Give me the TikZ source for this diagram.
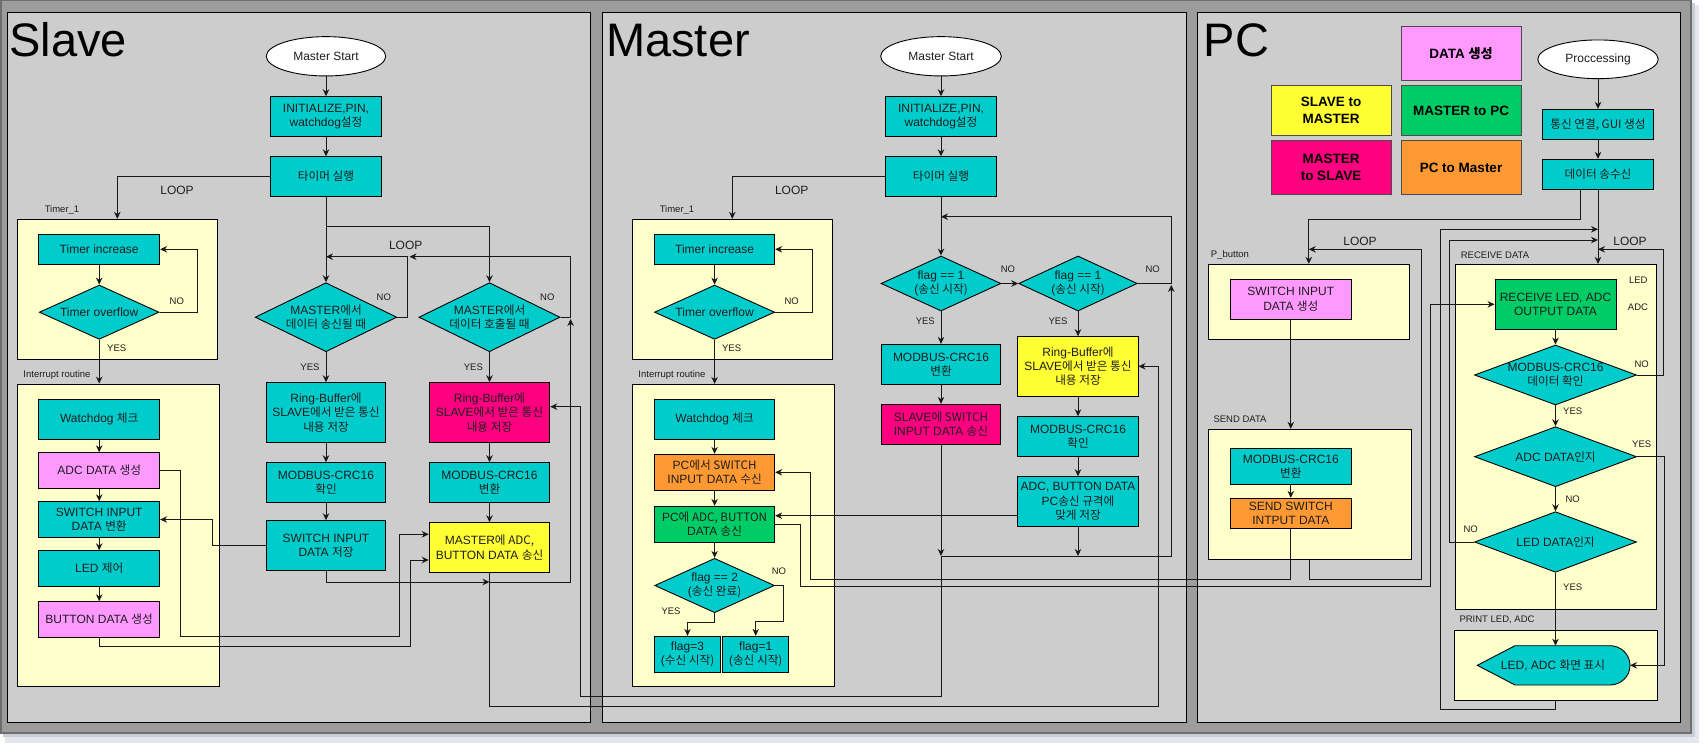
\documentclass[tikz,border=0pt]{standalone}
\usepackage{fontspec}
\setmainfont{Liberation Sans}
\newfontfamily\ko[Scale=0.97]{Noto Sans CJK KR}
\usetikzlibrary{shapes.geometric,arrows.meta,calc}
\definecolor{cyanc}{HTML}{00CCCC}
\definecolor{pinkl}{HTML}{FF99FF}
\definecolor{pinkr}{HTML}{FF0080}
\definecolor{yel}{HTML}{FFFF33}
\definecolor{grn}{HTML}{00CC66}
\definecolor{org}{HTML}{FF9933}
\definecolor{contc}{HTML}{FFFFCC}
\definecolor{panelc}{HTML}{CDCDCD}
\definecolor{framec}{HTML}{9C9C9C}
\definecolor{framedk}{HTML}{6E6E6E}
\definecolor{shada}{HTML}{E4E7EE}
\definecolor{shadb}{HTML}{C9CDD6}
\definecolor{txt}{HTML}{1E1E1E}
\tikzset{
  base/.style={font=\fontsize{12}{14.3}\selectfont, text=txt},
  bx/.style={draw, line width=0.9pt, align=center, inner sep=0.3pt, base},
  sz/.style 2 args={minimum width=#1pt, minimum height=#2pt},
  cy/.style={bx, fill=cyanc},
  pl/.style={bx, fill=pinkl},
  pr/.style={bx, fill=pinkr},
  ye/.style={bx, fill=yel},
  gr/.style={bx, fill=grn},
  og/.style={bx, fill=org},
  ell/.style={bx, ellipse, fill=white},
  cont/.style={draw, line width=0.9pt, fill=contc, inner sep=0pt},
  dia/.style={draw, line width=0.9pt, fill=cyanc, diamond, inner sep=0pt},
  dtx/.style={base, align=center, inner sep=0pt},
  lab/.style={font=\fontsize{9.5}{11}\selectfont, text=txt, inner sep=0pt},
  lp/.style={font=\fontsize{12}{13}\selectfont, text=txt, inner sep=0pt},
  lg/.style={draw=black!70, line width=0.8pt, align=center, inner sep=0.5pt,
             font=\bfseries\fontsize{13.5}{16.5}\selectfont, text=black},
  ttl/.style={anchor=base west, inner sep=0pt, font=\fontsize{47}{47}\selectfont, text=black},
  panel/.style={draw=black, line width=1pt, fill=panelc},
  arr/.style={-{Stealth[length=7pt,width=6.5pt]}, line width=0.9pt, draw=black!90},
  ln/.style={line width=0.9pt, draw=black!90},
}
\begin{document}
\begin{tikzpicture}[x=1pt,y=-1pt]
\useasboundingbox (0,0) rectangle (1706,749);
\fill[white] (0,0) rectangle (1706,749);
\fill[shada] (5,5) rectangle (1699,743);
\fill[shadb] (3,3) rectangle (1695,737);
\draw[fill=framec, draw=framedk, line width=1.5pt] (0.75,0.75) rectangle (1691,733);
\draw[panel] (7.7,12.7) rectangle (590.7,722.7);
\draw[panel] (602.3,12.7) rectangle (1186,722.7);
\draw[panel] (1197.7,12.7) rectangle (1680.5,722.7);

% titles
\node[ttl] (tSlave) at (9.3,57) {Slave};
\node[ttl] (tMaster) at (606,57) {Master};
\node[ttl] (tPC) at (1203.5,57) {PC};

% ================= SLAVE =================
\node[cont, sz={200.2}{140}] (s_t1) at (117.3,289.3) {};
\node[cont, sz={202}{302}] (s_int) at (118.2,535) {};
\node[lab] (s_t1l) at (62,210) {Timer\_1};
\node[lab] (s_intl) at (57,375) {Interrupt routine};

\node[ell, sz={119.4}{39.3}] (s_start) at (326,56.3) {Master Start};
\node[cy, sz={110.2}{40}] (s_init) at (326,116.7) {INITIALIZE,PIN,\\watchdog\ko{설정}};
\node[cy, sz={110.2}{39.3}] (s_timer) at (326,176.4) {\ko{타이머 실행}};

\node[cy, sz={120.9}{30}] (s_inc) at (99.2,249.3) {Timer increase};
\node[dia, sz={119.8}{54.3}] (s_ovf) at (99.2,312.2) {};
\node[dtx] (s_ovft) at (s_ovf) {Timer overflow};

\node[cy, sz={120.9}{40}] (s_wd) at (99.2,419.3) {Watchdog \ko{체크}};
\node[pl, sz={120.9}{35.6}] (s_adc) at (99.2,470.5) {ADC DATA \ko{생성}};
\node[cy, sz={120.9}{35.6}] (s_sw) at (99.2,519.5) {SWITCH INPUT\\DATA \ko{변환}};
\node[cy, sz={120.9}{35.3}] (s_led) at (99.2,568.4) {LED \ko{제어}};
\node[pl, sz={120.9}{35.6}] (s_btn) at (99.2,619.5) {BUTTON DATA \ko{생성}};

\node[dia, sz={141.6}{69}] (s_d1) at (326,317.2) {};
\node[dtx] (s_d1t) at (s_d1) {MASTER\ko{에서}\\\ko{데이터 송신될 때}};
\node[dia, sz={141.2}{69}] (s_d2) at (489.5,317.2) {};
\node[dtx] (s_d2t) at (s_d2) {MASTER\ko{에서}\\\ko{데이터 호출될 때}};

\node[cy, sz={119.8}{59.6}] (s_rb1) at (326,412.5) {Ring-Buffer\ko{에}\\SLAVE\ko{에서 받은 통신}\\\ko{내용 저장}};
\node[pr, sz={120.6}{59.6}] (s_rb2) at (489.5,412.5) {Ring-Buffer\ko{에}\\SLAVE\ko{에서 받은 통신}\\\ko{내용 저장}};
\node[cy, sz={119.8}{39.6}] (s_crc1) at (326,482.5) {MODBUS-CRC16\\\ko{확인}};
\node[cy, sz={120.6}{39.6}] (s_crc2) at (489.5,482.5) {MODBUS-CRC16\\\ko{변환}};
\node[cy, sz={119.8}{49.6}] (s_swst) at (326,545.5) {SWITCH INPUT\\DATA \ko{저장}};
\node[ye, sz={120.6}{49.6}] (s_madc) at (489.5,547.5) {MASTER\ko{에} ADC,\\BUTTON DATA \ko{송신}};

\node[lp] (s_loop1) at (177,190.7) {LOOP};
\node[lp] (s_loop2) at (405.7,245.7) {LOOP};
\node[lab] (s_no0) at (176.8,301.7) {NO};
\node[lab] (s_yes0) at (116.7,348.7) {YES};
\node[lab] (s_no1) at (383.8,297.7) {NO};
\node[lab] (s_no2) at (547.3,297.7) {NO};
\node[lab] (s_yes1) at (310,367.3) {YES};
\node[lab] (s_yes2) at (473.4,367.3) {YES};

% ================= MASTER =================
\node[cont, sz={200.1}{140}] (m_t1) at (732.3,289.3) {};
\node[cont, sz={202.5}{301.7}] (m_int) at (733.5,535.2) {};
\node[lab] (m_t1l) at (677,210) {Timer\_1};
\node[lab] (m_intl) at (672,375) {Interrupt routine};

\node[ell, sz={120.6}{39.3}] (m_start) at (941,56.3) {Master Start};
\node[cy, sz={110.2}{40}] (m_init) at (941,116.7) {INITIALIZE,PIN,\\watchdog\ko{설정}};
\node[cy, sz={110.2}{39.3}] (m_timer) at (941,176.4) {\ko{타이머 실행}};

\node[cy, sz={120.2}{30}] (m_inc) at (714.6,249.3) {Timer increase};
\node[dia, sz={120.2}{54.3}] (m_ovf) at (714.6,312.2) {};
\node[dtx] (m_ovft) at (m_ovf) {Timer overflow};

\node[cy, sz={120.2}{40}] (m_wd) at (714.6,419.3) {Watchdog \ko{체크}};
\node[og, sz={120.2}{36}] (m_pcrx) at (714.6,472.3) {PC\ko{에서} SWITCH\\INPUT DATA \ko{수신}};
\node[gr, sz={120.2}{36}] (m_pctx) at (714.6,524.3) {PC\ko{에} ADC, BUTTON\\DATA \ko{송신}};
\node[dia, sz={119.8}{54.4}] (m_d3) at (714.6,585.5) {};
\node[dtx] (m_d3t) at (m_d3) {flag == 2\\(\ko{송신 완료})};
\node[cy, sz={66}{36.4}] (m_f3) at (687.5,654.5) {flag=3\\(\ko{수신 시작})};
\node[cy, sz={66.4}{36.4}] (m_f1) at (755.7,654.5) {flag=1\\(\ko{송신 시작})};

\node[dia, sz={119.8}{55}] (m_d1) at (941,283.5) {};
\node[dtx] (m_d1t) at (m_d1) {flag == 1\\(\ko{송신 시작})};
\node[dia, sz={118.6}{55}] (m_d2) at (1078,283.5) {};
\node[dtx] (m_d2t) at (m_d2) {flag == 1\\(\ko{송신 시작})};

\node[cy, sz={119.8}{40}] (m_crc) at (941,364.3) {MODBUS-CRC16\\\ko{변환}};
\node[pr, sz={119.8}{40}] (m_pink) at (941,424.3) {SLAVE\ko{에} SWITCH\\INPUT DATA \ko{송신}};
\node[ye, sz={120.2}{59.3}] (m_rb) at (1078,366.3) {Ring-Buffer\ko{에}\\SLAVE\ko{에서 받은 통신}\\\ko{내용 저장}};
\node[cy, sz={120.2}{40}] (m_crc2) at (1078,436.7) {MODBUS-CRC16\\\ko{확인}};
\node[cy, sz={120.2}{49.6}] (m_adc) at (1078,501.5) {ADC, BUTTON DATA\\PC\ko{송신 규격에}\\\ko{맞게 저장}};

\node[lp] (m_loop1) at (791.7,190.7) {LOOP};
\node[lab] (m_no0) at (791.7,301.7) {NO};
\node[lab] (m_yes0) at (731.6,348.7) {YES};
\node[lab] (m_no1) at (1008,269.3) {NO};
\node[lab] (m_no2) at (1152.7,269.3) {NO};
\node[lab] (m_yes1) at (925.3,321.7) {YES};
\node[lab] (m_yes2) at (1058,321.7) {YES};
\node[lab] (m_no3) at (779,571.7) {NO};
\node[lab] (m_yes3) at (671,611.3) {YES};

% ================= PC =================
\node[lg, fill=pinkl, sz={120}{53.3}] (l_data) at (1461,53.4) {DATA \ko{생성}};
\node[lg, fill=yel, sz={120}{49.3}] (l_s2m) at (1331,110.4) {SLAVE to\\MASTER};
\node[lg, fill=grn, sz={120}{49.3}] (l_m2pc) at (1461,110.4) {MASTER to PC};
\node[lg, fill=pinkr, sz={120}{53.3}] (l_m2s) at (1331,167.4) {MASTER\\to SLAVE};
\node[lg, fill=org, sz={120}{53.3}] (l_pc2m) at (1461,167.4) {PC to Master};

\node[cont, sz={201}{75}] (p_btn) at (1308.8,301.8) {};
\node[cont, sz={202.7}{130}] (p_send) at (1309.6,494.3) {};
\node[cont, sz={200.3}{344.7}] (p_recvc) at (1555.8,436.7) {};
\node[cont, sz={202.3}{69.7}] (p_printc) at (1555.8,665.2) {};
\node[lab] (p_btnl) at (1230,255) {P\_button};
\node[lab] (p_sendl) at (1240,419.3) {SEND DATA};
\node[lab] (p_recvl) at (1495,255) {RECEIVE DATA};
\node[lab] (p_printl) at (1497,620) {PRINT LED, ADC};

\node[ell, sz={120.4}{38.7}] (p_start) at (1598,59.3) {Proccessing};
\node[cy, sz={110.6}{30}] (p_gui) at (1598,124.3) {\ko{통신 연결}, GUI \ko{생성}};
\node[cy, sz={110.6}{30}] (p_trx) at (1598,174.3) {\ko{데이터 송수신}};

\node[pl, sz={120.3}{40}] (p_swgen) at (1290.8,299.3) {SWITCH INPUT\\DATA \ko{생성}};
\node[cy, sz={120.3}{36}] (p_crc) at (1290.8,466.3) {MODBUS-CRC16\\\ko{변환}};
\node[og, sz={120.3}{30}] (p_sendsw) at (1290.8,513.3) {SEND SWITCH\\INTPUT DATA};

\node[gr, sz={121}{50}] (p_recv) at (1555.5,304.3) {RECEIVE LED, ADC\\OUTPUT DATA};
\node[dia, sz={162}{60}] (p_dm) at (1555.5,375) {};
\node[dtx] (p_dmt) at (p_dm) {MODBUS-CRC16\\\ko{데이터 확인}};
\node[dia, sz={162}{60}] (p_dadc) at (1555.5,456.7) {};
\node[dtx] (p_dadct) at (p_dadc) {ADC DATA\ko{인지}};
\node[dia, sz={162}{60.6}] (p_dled) at (1555.5,542) {};
\node[dtx] (p_dledt) at (p_dled) {LED DATA\ko{인지}};

\draw[line width=0.9pt, fill=cyanc] (1477.3,665.3) -- (1515,645.7) -- (1610,645.7)
  arc[start angle=-90, end angle=90, x radius=20, y radius=19.65] -- (1515,685) -- cycle;
\node[dtx] (p_disp) at (1553,665.3) {LED, ADC \ko{화면 표시}};
\coordinate (p_dT) at (1555.5,645.7);
\coordinate (p_dR) at (1630,665.3);

\node[lab] (p_led) at (1638.3,280.7) {LED};
\node[lab] (p_adcl) at (1638,307.3) {ADC};
\node[lp] (p_loop1) at (1360,241.3) {LOOP};
\node[lp] (p_loop2) at (1630,241.3) {LOOP};
\node[lab] (p_no1) at (1641.7,364.3) {NO};
\node[lab] (p_yes1) at (1572.7,411.7) {YES};
\node[lab] (p_yes2) at (1641.7,444) {YES};
\node[lab] (p_no2) at (1572.7,499.3) {NO};
\node[lab] (p_no3) at (1470.7,529.3) {NO};
\node[lab] (p_yes3) at (1572.7,587.3) {YES};

% ================= connectors: slave =================
\draw[arr] (s_start) -- (s_init);
\draw[arr] (s_init) -- (s_timer);
\draw[arr] (s_timer.west) -| (s_t1.north);
\draw[arr] (s_inc) -- (s_ovf);
\draw[arr] (s_ovf.east) -- ++(38,0) |- (s_inc.east);
\draw[arr] (s_ovf.south) -- (s_ovf.south |- s_int.north);
\draw[arr] (s_wd) -- (s_adc);
\draw[arr] (s_adc) -- (s_sw);
\draw[arr] (s_sw) -- (s_led);
\draw[arr] (s_led) -- (s_btn);
\draw[arr] (s_timer) -- (s_d1);
\coordinate (s_br) at (326,226.7);
\draw[arr] (s_br) -| (s_d2.north);
\coordinate (s_lp1) at (326,256.7);
\coordinate (s_lp2) at (409.5,256.7);
\draw[arr] (s_d1.east) -| (407.6,256.7) -- (s_lp1);
\draw[arr] (s_d2.east) -| (570.6,256.7) -- (s_lp2);
\draw[arr] (s_d1) -- (s_rb1);
\draw[arr] (s_rb1) -- (s_crc1);
\draw[arr] (s_crc1) -- (s_swst);
\draw[arr] (s_d2) -- (s_rb2);
\draw[arr] (s_rb2) -- (s_crc2);
\draw[arr] (s_crc2) -- (s_madc);
\draw[arr] (s_swst.west) -| (212.8,519.5) -- (s_sw.east);
\draw[arr] (s_adc.east) -| (180.3,636) -| ($(s_madc.west)+(-29,-13.2)$) -- ($(s_madc.west)+(0,-13.2)$);
\draw[arr] (s_btn.south) |- (410.3,646) -- (410.3,560) -- ($(s_madc.west)+(0,12.5)$);
\coordinate (s_j) at (489.5,582);
\draw[arr] (s_swst.south) |- (s_j);
\draw[arr] (s_j) -- (570.6,582) -- (570.6,319);

% ================= connectors: master =================
\draw[arr] (m_start) -- (m_init);
\draw[arr] (m_init) -- (m_timer);
\draw[arr] (m_timer.west) -| (m_t1.north);
\draw[arr] (m_inc) -- (m_ovf);
\draw[arr] (m_ovf.east) -- ++(37.5,0) |- (m_inc.east);
\draw[arr] (m_ovf.south) -- (m_ovf.south |- m_int.north);
\draw[arr] (m_wd) -- (m_pcrx);
\draw[arr] (m_pcrx) -- (m_pctx);
\draw[arr] (m_pctx) -- (m_d3);
\draw[arr] (m_d3.south) |- (687.5,622.3) -- (m_f3.north);
\draw[arr] (m_d3.east) -| (783.7,621) -| (m_f1.north);
\draw[arr] (m_timer) -- (m_d1);
\draw[arr] (m_d1) -- (m_d2);
\draw[arr] (m_d1) -- (m_crc);
\draw[arr] (m_crc) -- (m_pink);
\draw[arr] (m_d2) -- (m_rb);
\draw[arr] (m_rb) -- (m_crc2);
\draw[arr] (m_crc2) -- (m_adc);
\coordinate (m_j) at (941,556);
\coordinate (m_lp) at (941,216.7);
\draw[arr] (m_pink.south) -- (m_j);
\draw[arr] (m_adc.south) -- (m_adc.south |- m_j);
\draw[arr] (m_j) -| (1171.3,285);
\draw[arr] (m_d2.east) -| (1171.3,216.7) -- (m_lp);
\draw[arr] ($(m_adc.west)+(0,14.2)$) -- ($(m_pctx.east)+(0,-8.6)$);

% ================= connectors: PC =================
\draw[arr] (p_start) -- (p_gui);
\draw[arr] (p_gui) -- (p_trx);
\draw[arr] ($(p_trx.south)+(-18,0)$) |- (1308.8,219.3) -- (p_btn.north);
\draw[arr] (p_trx.south) -- (p_trx.south |- p_recvc.north);
\coordinate (p_a1) at (1598,229.3);
\coordinate (p_a2) at (1598,240);
\coordinate (p_a3) at (1598,249.3);
\draw[arr] (p_printc.south) |- (1440.7,709.3) |- (p_a1);
\draw[arr] (p_dled.west) -| (1449.3,240) -- (p_a2);
\draw[arr] (p_dm.east) -| (1663.3,249.3) -- (p_a3);
\draw[arr] (p_recv) -- (p_dm);
\draw[arr] (p_dm) -- (p_dadc);
\draw[arr] (p_dadc) -- (p_dled);
\draw[arr] (p_dled.south) -- (p_dT);
\draw[arr] (p_dadc.east) -| (1664.3,665.3) -- (p_dR);
\draw[arr] (p_swgen.south) -- (p_swgen.south |- p_send.north);
\draw[arr] (p_crc) -- (p_sendsw);
\coordinate (p_lp) at (1308.8,249.3);
\draw[arr] (p_send.south) |- (1421,579.3) |- (p_lp);

% ================= cross-panel connectors =================
\draw[arr] (s_madc.south) |- (1158.2,706) |- (m_rb.east);
\draw[arr] (m_j) -- (941,696) -| (580.7,406.7) -- ($(s_rb2.east)+(0,-5.8)$);
\draw[arr] (m_pctx.east) -| (800.4,586.7) -| (1430,304.3) -- (p_recv.west);
\draw[arr] (p_sendsw.south) |- (810.2,579.3) |- (m_pcrx.east);
\end{tikzpicture}
\end{document}
